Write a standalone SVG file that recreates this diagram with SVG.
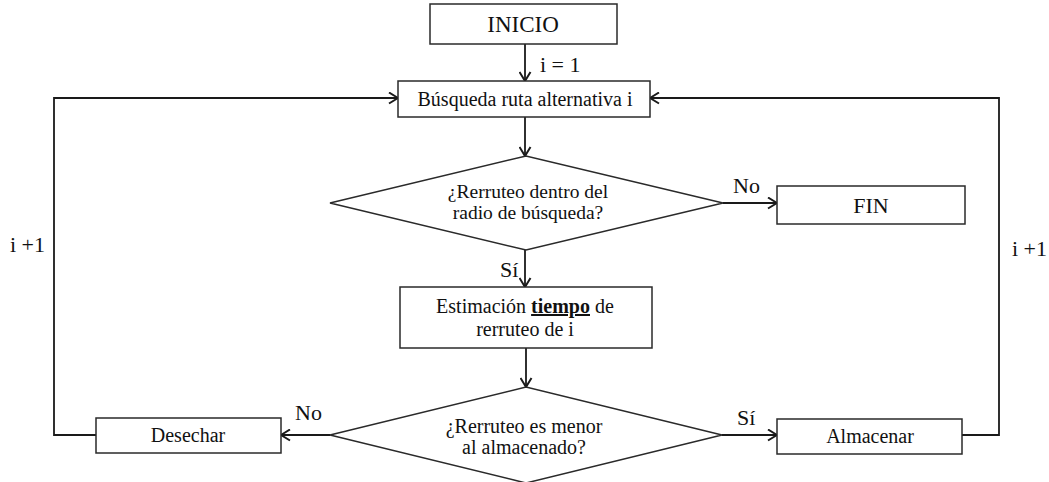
<svg xmlns="http://www.w3.org/2000/svg" width="1049" height="482" viewBox="0 0 1049 482">
<style>
.box{fill:#fff;stroke:#2a2a2a;stroke-width:1.5}
.con{fill:none;stroke:#1a1a1a;stroke-width:1.8}
text{font-family:"Liberation Serif","Times New Roman",serif;fill:#111}
.t{font-size:20px;text-anchor:middle}
.big{font-size:22px;text-anchor:middle}
.lbl{font-size:22px}
</style>
<defs>
<marker id="ah" viewBox="0 0 11 13" refX="10" refY="6.5" markerWidth="11" markerHeight="13" markerUnits="userSpaceOnUse" orient="auto">
<path d="M1,1 L10,6.5 L1,12" fill="none" stroke="#1a1a1a" stroke-width="2"/>
</marker>
</defs>
<rect width="1049" height="482" fill="#fff"/>
<g id="connectors">
<line class="con" x1="525" y1="44" x2="525" y2="81" marker-end="url(#ah)"/>
<line class="con" x1="525" y1="117" x2="525" y2="156" marker-end="url(#ah)"/>
<line class="con" x1="723" y1="203" x2="777" y2="203" marker-end="url(#ah)"/>
<line class="con" x1="525" y1="250" x2="525" y2="287" marker-end="url(#ah)"/>
<line class="con" x1="526" y1="348" x2="526" y2="387" marker-end="url(#ah)"/>
<line class="con" x1="330" y1="435" x2="281" y2="435" marker-end="url(#ah)"/>
<line class="con" x1="722" y1="435" x2="777" y2="435" marker-end="url(#ah)"/>
<polyline class="con" points="96,435 54,435 54,98 398,98" marker-end="url(#ah)"/>
<polyline class="con" points="962,435 999,435 999,98 650,98" marker-end="url(#ah)"/>
<text class="lbl" x="540" y="72">i = 1</text>
<text class="lbl" x="733" y="193">No</text>
<text class="lbl" x="500" y="277">Sí</text>
<text class="lbl" x="295" y="420">No</text>
<text class="lbl" x="737" y="425">Sí</text>
<text class="lbl" x="10" y="252">i +1</text>
<text class="lbl" x="1012" y="256">i +1</text>
</g>
<g id="inicio">
<rect class="box" x="430" y="4" width="187" height="40"/>
<text class="big" x="523" y="32" style="font-size:23px">INICIO</text>
</g>
<g id="busqueda">
<rect class="box" x="398" y="81" width="252" height="36"/>
<text class="t" x="525" y="106">Búsqueda ruta alternativa i</text>
</g>
<g id="decision1">
<polygon class="box" points="330,203 526,156 723,203 526,250"/>
<text class="t" x="528" y="198" style="font-size:19.5px">¿Rerruteo dentro del</text>
<text class="t" x="528" y="219" style="font-size:19.5px">radio de búsqueda?</text>
</g>
<g id="fin">
<rect class="box" x="777" y="186" width="188" height="38"/>
<text class="big" x="871" y="213">FIN</text>
</g>
<g id="estimacion">
<rect class="box" x="400" y="287" width="252" height="61"/>
<text class="t" x="525" y="313">Estimación <tspan font-weight="bold" text-decoration="underline">tiempo</tspan> de</text>
<text class="t" x="525" y="336">rerruteo de i</text>
</g>
<g id="decision2">
<polygon class="box" points="330,435 526,387 722,435 526,483"/>
<text class="t" x="524" y="433">¿Rerruteo es menor</text>
<text class="t" x="524" y="454">al almacenado?</text>
</g>
<g id="desechar">
<rect class="box" x="96" y="418" width="185" height="35"/>
<text class="t" x="188" y="442">Desechar</text>
</g>
<g id="almacenar">
<rect class="box" x="777" y="419" width="185" height="35"/>
<text class="t" x="870" y="443">Almacenar</text>
</g>
</svg>
